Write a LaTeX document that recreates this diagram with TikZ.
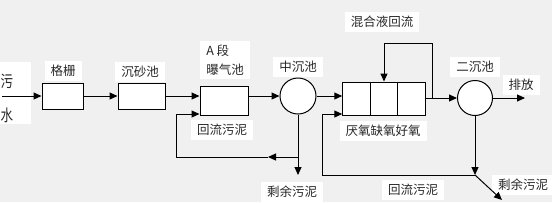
\documentclass[tikz,border=0pt]{standalone}
\usepackage{fontspec}
\newfontfamily\cjk{Noto Sans CJK SC}
\usetikzlibrary{arrows.meta}
\definecolor{bggray}{RGB}{240,240,240}
\definecolor{inkgray}{RGB}{40,40,40}
\begin{document}
\begin{tikzpicture}[x=1pt,y=-1pt,line width=1pt,
  font=\cjk\fontsize{12.5}{15}\selectfont,
  lbl/.style={fill=white, text=inkgray, inner xsep=6pt, inner ysep=4pt},
  tank/.style={draw, fill=white, minimum height=26pt, inner sep=0pt},
  cell/.style={draw, fill=white, minimum width=27.5pt, minimum height=33pt, inner sep=0pt},
  pool/.style={draw, fill=white, circle, minimum size=36pt, inner sep=0pt},
  arr/.style={-{Triangle[length=8pt,width=7pt]}}]
% background
\fill[bggray] (0,0) rectangle (552,202);
\useasboundingbox (0,0) rectangle (552,202);
% labels
\fill[white] (0,62) rectangle (31,124);
\node[text=inkgray, inner sep=0pt, yscale=1.3] (wul) at (7,81) {污};
\node[text=inkgray, inner sep=0pt, yscale=1.3] (shuil) at (7,115) {水};
\node[lbl] (gsl) at (63,71) {格栅};
\node[lbl] (csl) at (140,72) {沉砂池};
\node[lbl, align=left] (abl) at (225,60) {A 段\\[4pt]曝气池};
\node[lbl] (c1l) at (298,67) {中沉池};
\node[lbl] (r1l) at (222,130) {回流污泥};
\node[lbl] (w1l) at (292,192) {剩余污泥};
\node[lbl] (mixl) at (382,22) {混合液回流};
\node[lbl] (aaol) at (383,131) {厌氧缺氧好氧};
\node[lbl] (c2l) at (475,67) {二沉池};
\node[lbl] (outl) at (521,85) {排放};
\node[lbl] (r2l) at (413,190) {回流污泥};
\node[lbl] (w2l) at (523,185) {剩余污泥};
% units
\node[tank, minimum width=41pt] (gs) at (62.5,96) {};
\node[tank, minimum width=47pt] (cs) at (141.5,96) {};
\node[tank, minimum width=48pt, minimum height=29pt] (ab) at (224,100.5) {};
\node[pool] (c1) at (298,96) {};
\foreach \i/\x in {1/356.5,2/384,3/411.5}
  \node[cell] (a\i) at (\x,98.5) {};
\node[pool, minimum size=35pt] (c2) at (475,98) {};
% free ends and bends
\coordinate (in) at (2,96);
\coordinate (out) at (525,98);
\coordinate (w1) at (298,175);
\coordinate (r1a) at (298,157);
\coordinate (r1m) at (268,157);
\coordinate (r1b) at (176,157);
\coordinate (r1c) at (176,114);
\coordinate (j2) at (475,175);
\coordinate (w2) at (502,200);
\coordinate (r2a) at (322,175);
\coordinate (r2b) at (322,114);
\coordinate (m1) at (432,98);
\coordinate (m2) at (432,43);
% main flow
\draw[arr] (in) -- (gs.west);
\draw[arr] (gs.east) -- (cs.west);
\draw[arr] (cs.east) -- (cs.east -| ab.west);
\draw[arr] (ab.east |- c1) -- (c1.west);
\draw[arr] (c1.east) -- (c1.east -| a1.west);
\draw[arr] (a3.east |- c2) -- (c2.west);
\draw[arr] (c2.east) -- (out);
% sludge return, first stage
\draw[arr] (c1.south) -- (w1);
\draw[arr] (r1a) -- (r1m);
\draw[arr] (r1m) -- (r1b) -- (r1c) -- (r1c -| ab.west);
% sludge return, second stage
\draw[arr] (c2.south) -- (j2);
\draw[arr] (j2) -- (w2);
\draw[arr] (j2) -- (r2a) -- (r2b) -- (r2b -| a1.west);
% mixed liquor return
\draw[arr] (m1) -- (m2) -- (m2 -| a2.north) -- (a2.north);
\end{tikzpicture}
\end{document}
